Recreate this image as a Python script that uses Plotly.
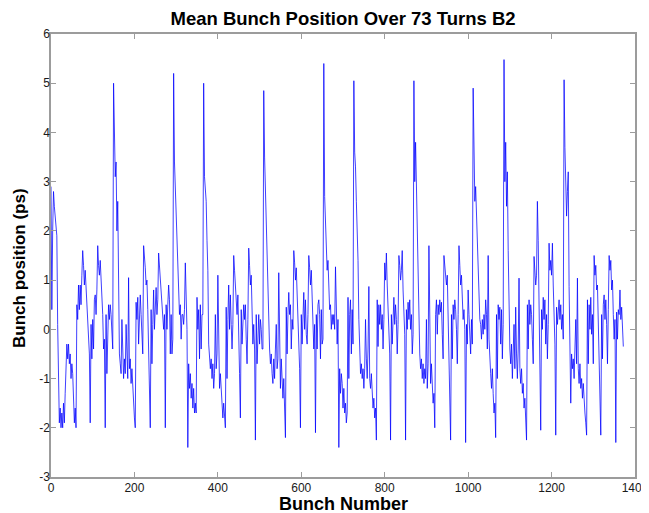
import plotly.graph_objects as go

# Mean bunch position (ps), one value every 2 bunches, grouped by stretch of the fill.
# Each entry: (first bunch number of the stretch, values)
lead_a = [2.9, 0.4, 2.0, 2.8, 2.5, 2.3, 2.0, 1.9, 0.1]
lead_b = [-1.4, -1.9, -1.6, -2.0, -1.7, -2.0, -1.5, -1.9, -1.3]
lead_c = [-0.8, -0.3, -0.6, -0.3, -0.7, -0.5, -1.0, -0.7, -0.9, -1.7, -1.9, -1.6, -2.0]
b1_t1 = [0.5, 0.2, 0.9, 0.4, 0.9, 0.5, 1.1, 1.6, 1.3, 0.9, 1.2, 0.8, 0.6, 0.2, -0.3, -0.5, -1.9]
b1_t2 = [0.1, -0.6, 0.2, -0.4, 0.6, 0.7, 0.3, 0.8, 1.7, 1.3, 1.1, 1.4, 1.0, 0.9, 0.3, -0.4, -0.2, -2.0]
b1_p = [0.3, -0.9, 0.1, 0.5, 0.2, 0.5, 0.3, -0.3, -0.4]
s1 = [5.0, 3.6, 3.1, 3.4, 2.0, 2.6, 0.6, -0.5, -0.7, -0.9, 0.2, -0.8, -1.0, -0.6, -0.9, 0.1, -0.7, -1.0,
      1.05, -0.8, -0.6, -1.1, -0.8, -1.2, -1.5, -1.8, -2.0]
b2_t1 = [0.55, 0.2, 0.65, -0.3, 0.4, 0.7, 0.3, -0.1, -0.5, 1.7, 1.3, 1.25, 0.9, 1.0, 0.4, -0.3, -0.7, -2.0]
b2_t2 = [0.4, -0.7, 0.1, 0.8, 0.0, 0.6, 0.85, 0.3, 0.6, 1.55, 1.3, 1.2, 0.9, 0.65, 0.45, 0.0, 0.3, -2.0]
b2_p = [0.5, 0.0, 0.5, 0.9, 0.6, -0.5, 0.3, -0.5, -0.2]
s2 = [5.2, 3.4, 2.9, 2.4, 2.0, 1.3, 0.9, 0.3, 0.5, -0.2, 0.3, 0.3, 0.1, 0.4, 1.35, 0.6, 0.0, -2.4,
      -0.7, -1.2, -0.9, -1.4, -1.1, -1.6, -1.2, -1.7, -1.5, -1.7]
b3_p = [0.65, 0.0, 0.4, -0.6, 0.5, -0.4, 0.3, 0.3]
s3 = [5.0, 3.1, 2.9, 2.6, 1.8, 1.2, -0.3, -0.5, -0.8, -0.6, -1.0, -0.7, -1.2, -0.9, 0.3, -0.8, -0.5, 1.1,
      -0.8, -1.2, -0.9, -1.3, -1.4, -1.8, -1.5, -1.9, -2.0]
b4_t1 = [0.45, -1.0, 0.2, 0.9, 0.0, 0.7, 0.1, -0.4, 0.1, 1.5, 1.2, 0.9, 0.7, 0.3, 0.7, -0.7, -0.9, -1.8]
b4_t2 = [0.4, -0.3, 0.3, 0.5, 0.2, 0.5, -0.2, -0.7, 0.2, 1.65, 1.3, 0.9, 1.1, 0.2, -0.3, 0.1, -0.4, -2.25]
b4_p = [0.3, -0.7, 0.2, 0.3, -0.3, 0.2, 0.0, -0.4, -0.4]
s4 = [4.85, 3.5, 2.8, 2.2, 1.9, 1.2, 0.1, -0.4, -0.7, -0.5, -0.9, -1.1, -0.6, -1.0, -0.4, 0.1, -0.8, -0.6,
      1.15, -0.8, -1.2, -0.6, -1.1, -1.4, -1.0, -1.7, -2.2]
b5_t1 = [0.45, -0.5, 0.3, 0.75, 0.3, 0.5, -0.4, 0.2, 0.0, 1.6, 1.35, 1.0, 1.25, 0.8, 0.3, -0.3, -0.8, -2.0]
b5_t2 = [0.3, -0.3, 0.4, 0.75, 0.0, 0.6, -0.1, -0.3, 0.3, 1.5, 1.25, 0.9, 1.2, 0.7, 0.1, -0.4, 0.1, -2.1]
b5_p = [0.3, -0.4, 0.5, 0.6, 0.3, -0.6, 0.4, -0.3, -0.2]
s5 = [5.4, 2.7, 2.3, 1.6, 1.2, 1.4, 0.8, 0.4, 0.5, 0.0, 0.3, 0.1, 0.3, 0.0, 1.27, 0.5, -0.3, 0.2,
      -2.4, -0.8, -1.3, -0.9, -1.1, -1.6, -1.2, -1.7, -1.5, -1.9, -1.7]
b6_p = [0.65, -1.0, 0.3, 0.6, -0.5, 0.4, -0.3]
s6 = [5.05, 3.6, 3.3, 2.6, 2.0, 1.4, 0.2, -0.6, -0.9, -0.7, -1.0, -0.8, -1.2, -0.8, 0.2, -0.6, -1.0, -0.4,
      0.87, -1.0, -1.2, -0.9, -1.4, -1.6, -1.4, -1.8, -1.6, -2.25]
b7_t1 = [0.6, -0.35, 0.5, 0.1, 0.5, 0.0, 0.3, -0.4, 0.2, 1.35, 1.0, 1.55, 0.9, 0.5, 0.0, -0.5, -2.25]
b7_t2 = [0.3, -0.3, 0.4, 0.65, 0.1, 0.5, 0.2, -0.5, 0.1, 1.5, 1.3, 1.0, 1.2, 1.6, 0.8, 0.3, -0.1, -2.25]
b7_p = [0.4, 0.0, 0.55, 0.2, 0.6, 0.0, 0.3, -0.5, -0.1]
s7 = [5.05, 3.0, 3.8, 2.9, 2.3, 1.3, 0.1, -0.5, -0.8, -0.6, -1.0, -0.7, -1.1, -0.8, -1.0, 0.2, -1.2, -0.7,
      1.7, -0.8, -1.1, -0.7, -1.2, -1.5, -1.3, -2.0]
b8_t1 = [0.3, 0.6, -0.1, 0.5, 0.3, 0.6, 0.35, 0.55, -0.1, -0.6, 1.5, 1.3, 1.2, 0.9, 1.1, 0.3, -0.3, -0.8, -2.25]
b8_t2 = [0.3, -0.6, 0.5, 0.2, 0.6, 0.4, 0.0, -0.7, 0.3, 1.7, 1.3, 0.9, 1.1, 0.5, 0.2, 0.4, 0.0, -2.3]
b8_p = [0.1, -0.3, 0.8, 0.3, 0.0, -0.5, 0.2, -0.3]
s8 = [4.9, 3.4, 2.6, 2.9, 2.4, 2.0, 1.2, 0.6, 0.2, 0.1, -0.2, 0.2, -0.1, 0.3, 0.0, 0.6, 0.3, -0.4,
      1.5, -0.2, -0.7, -0.9, -1.2, -0.8, -1.3, -1.7, -1.5, -2.2]
b9_p = [0.3, -1.0, 0.5, 0.2, 0.45, -0.3, 0.4, -0.6, 0.1]
s9 = [5.48, 3.0, 3.8, 2.5, 3.2, 1.6, 0.5, -0.4, -0.7, -0.3, -1.0, -0.6, 0.1, -0.8, 0.45, -0.5, -1.0, -0.4,
      1.04, -0.8, -1.1, -0.8, -1.3, -1.1, -1.6, -1.4, -1.8, -2.25]
b10_t1 = [0.5, -0.4, 0.6, 0.1, 0.5, 0.3, -0.2, -0.7, 1.48, 1.2, 0.9, 1.1, 2.6, 1.8, 0.2, -0.5, -2.05]
b10_t2 = [0.4, 0.0, 0.65, 0.2, 0.6, -0.3, 0.3, -0.6, 0.1, 1.75, 1.2, 1.4, 1.1, 1.75, 0.9, 0.3, -0.3, -2.15]
b10_p = [0.45, 0.1, 0.4, 0.6, 0.2, 0.5, 0.0, 0.3, -0.2]
s10 = [5.07, 3.7, 3.0, 2.3, 2.8, 3.2, 0.87, -0.4, -1.5, -0.5, -0.8, -0.6, -1.0, -0.4, 0.2, -0.7, 1.04,
       -0.8, -1.1, -0.7, -1.2, -1.0, -1.4, -1.1, -1.5, -1.7, -1.9, -2.15]
b11_t1 = [0.6, -0.7, 0.5, 0.0, 0.65, -0.1, 0.3, -0.7, 1.5, 1.1, 1.3, 0.8, 0.9, 0.0, -0.4, -1.0, -2.15]
b11_t2 = [0.3, -0.6, 0.5, 0.7, 0.2, 0.6, 0.1, -0.7, 0.4, 1.5, 1.2, 1.4, 0.8, 1.0, 0.3, -0.2, 0.2, -2.3]
b11_p = [0.35, -0.2, 0.4, 0.3, 0.8, 0.2, 0.45, -0.1, -0.35]

segments = [
    (0, lead_a), (18, lead_b), (36, lead_c),
    (62, b1_t1), (96, b1_t2), (132, b1_p),
    (150, s1), (204, b2_t1), (240, b2_t2), (276, b2_p),
    (294, s2), (350, b3_p),
    (366, s3), (420, b4_t1), (456, b4_t2), (492, b4_p),
    (510, s4), (564, b5_t1), (600, b5_t2), (636, b5_p),
    (654, s5), (712, b6_p),
    (726, s6), (782, b7_t1), (816, b7_t2), (852, b7_p),
    (870, s7), (922, b8_t1), (960, b8_t2), (996, b8_p),
    (1012, s8), (1068, b9_p),
    (1086, s9), (1142, b10_t1), (1176, b10_t2), (1212, b10_p),
    (1230, s10), (1286, b11_t1), (1320, b11_t2), (1356, b11_p),
]
BUNCH_STEP = 2

x_tick_vals = [0, 200, 400, 600, 800, 1000, 1200, 1400]
x_tick_text = ["0", "200", "400", "600", "800", "1000", "1200", "1400"]
y_tick_vals = [-3, -2, -1, 0, 1, 2, 3, 4, 5, 6]
y_tick_text = ["-3", "-2", "-1", "0", "1", "2", "3", "4", "5", "6"]

bunch = []
position = []
for start, vals in segments:
    for i, v in enumerate(vals):
        bunch.append(start + BUNCH_STEP * i)
        position.append(v)

FONT = "Liberation Sans, Arial, Helvetica, sans-serif"
FRAME = "#9c9c9c"

# The page body has an 8px default margin, so the figure is sized/offset to compensate.
FIG_W, FIG_H = 641, 505

fig = go.Figure(
    go.Scatter(x=bunch, y=position, mode="lines",
               line=dict(color="#0000ff", width=0.75), hoverinfo="skip")
)

axis_common = dict(
    ticks="inside", ticklen=5, tickwidth=1, tickcolor=FRAME,
    showline=True, linecolor=FRAME, linewidth=1.5, mirror="ticks",
    showgrid=False, zeroline=False,
    tickfont=dict(family=FONT, size=12, color="#1a1a1a"),
)

fig.update_layout(
    width=FIG_W, height=FIG_H,
    margin=dict(l=43, r=14, t=26, b=36, autoexpand=False),
    paper_bgcolor="white", plot_bgcolor="white",
    showlegend=False,
    title=dict(text="<b>Mean Bunch Position Over 73 Turns B2</b>",
               x=0.5, xref="paper", xanchor="center",
               y=1 - 10.5 / FIG_H, yref="container", yanchor="middle",
               font=dict(family=FONT, size=18.5, color="black")),
    xaxis=dict(range=[0, 1400], tickvals=x_tick_vals, ticktext=x_tick_text,
               ticklabelstandoff=-1, **axis_common),
    yaxis=dict(range=[-3, 6], tickvals=y_tick_vals, ticktext=y_tick_text,
               ticklabelstandoff=-3, **axis_common),
    annotations=[
        dict(text="<b>Bunch Number</b>", x=0.5, y=-0.0609, xref="paper", yref="paper",
             xanchor="center", yanchor="middle", showarrow=False,
             font=dict(family=FONT, size=18, color="black")),
        dict(text="<b>Bunch position (ps)</b>", x=-0.0531, y=0.4718, xref="paper", yref="paper",
             xanchor="center", yanchor="middle", showarrow=False, textangle=-90,
             font=dict(family=FONT, size=17, color="black")),
    ],
)

fig.write_html("out.html")
